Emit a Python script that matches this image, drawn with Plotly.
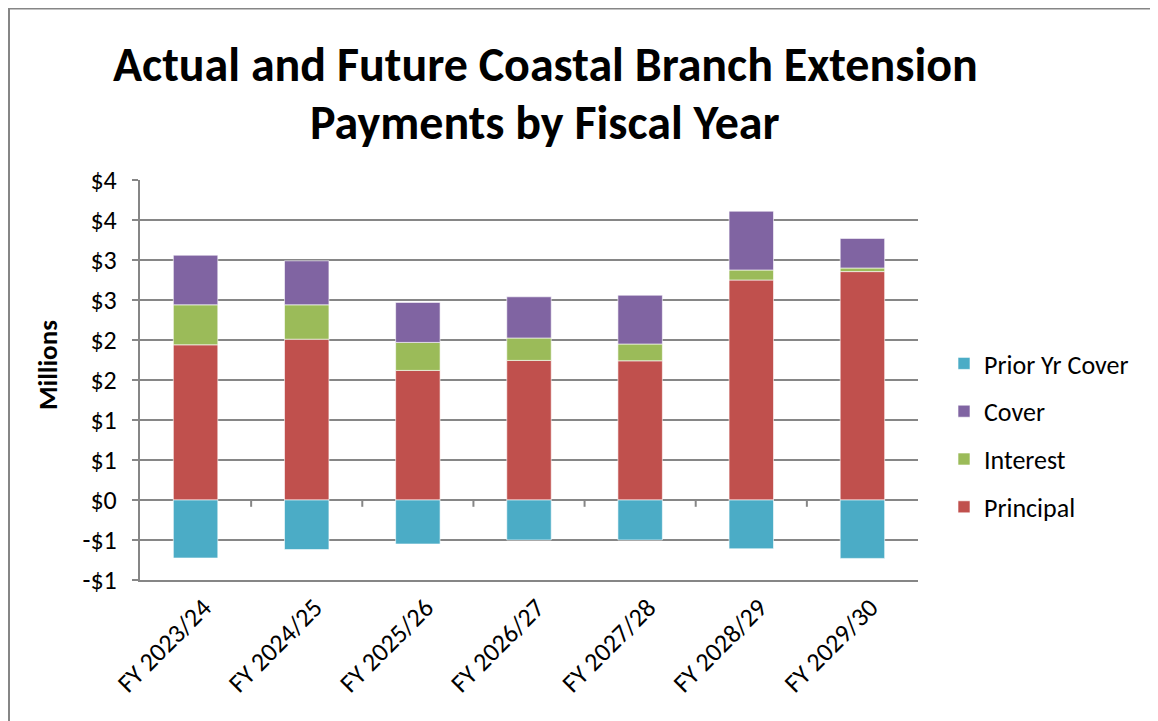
import plotly.graph_objects as go

categories = ["FY 2023/24", "FY 2024/25", "FY 2025/26", "FY 2026/27",
              "FY 2027/28", "FY 2028/29", "FY 2029/30"]
principal = [1.94, 2.01, 1.62, 1.745, 1.74, 2.75, 2.855]
interest = [0.50, 0.43, 0.35, 0.28, 0.21, 0.125, 0.045]
cover = [0.62, 0.55, 0.50, 0.515, 0.61, 0.735, 0.37]
prior_yr_cover = [-0.725, -0.62, -0.55, -0.50, -0.50, -0.61, -0.73]

tick_vals = [-1.0, -0.5, 0.0, 0.5, 1.0, 1.5, 2.0, 2.5, 3.0, 3.5, 4.0]
tick_text = ["-$1", "-$1", "$0", "$1", "$1", "$2", "$2", "$3", "$3", "$4", "$4"]

title_lines = ["Actual and Future Coastal Branch Extension", "Payments by Fiscal Year"]

FONT = "Carlito, Calibri, Lato, sans-serif"
GRID = "#868686"

# plot area in figure pixels
L, T, W, H = 132, 172, 778, 400
FW, FH = 1158, 721


def px(x):
    return (x - L) / W


def py(y):
    return (T + H - y) / H


series = [
    ("Principal", principal, "#C0504D", 4),
    ("Interest", interest, "#9BBB59", 3),
    ("Cover", cover, "#8064A2", 2),
    ("Prior Yr Cover", prior_yr_cover, "#4BACC6", 1),
]

fig = go.Figure()
for name, vals, col, rank in series:
    fig.add_trace(go.Bar(
        x=categories, y=vals, name=name, legendgroup=name, legendrank=rank,
        marker=dict(color=col, line=dict(color="rgba(255,255,255,0.6)", width=1)),
        width=0.4,
    ))

# category separator ticks on the zero line
for i in range(len(categories) - 1):
    fig.add_shape(type="line", xref="x", yref="y",
                  x0=i + 0.5, x1=i + 0.5, y0=0, y1=-0.085,
                  line=dict(color=GRID, width=2))

# chart outer border
fig.add_shape(type="rect", xref="paper", yref="paper",
              x0=px(1), x1=px(FW + 50), y0=py(FH + 50), y1=py(0.5),
              line=dict(color=GRID, width=2), fillcolor="rgba(0,0,0,0)", layer="above")

annotations = [
    dict(text="<b>Millions</b>", textangle=-90, xref="paper", yref="paper",
         x=px(39), y=py(357), xanchor="center", yanchor="middle",
         showarrow=False, font=dict(family=FONT, size=27, color="black")),
]
for line, yc in zip(title_lines, [57, 114]):
    annotations.append(dict(
        text="<b>" + line + "</b>", xref="paper", yref="paper",
        x=px(537), y=py(yc), xanchor="center", yanchor="middle",
        showarrow=False, font=dict(family=FONT, size=48, color="black")))

fig.update_layout(
    width=FW, height=FH,
    margin=dict(l=L, r=FW - L - W, t=T, b=FH - T - H),
    paper_bgcolor="white", plot_bgcolor="white",
    barmode="relative",
    font=dict(family=FONT, size=26, color="black"),
    xaxis=dict(
        showgrid=False, showline=True, linecolor=GRID, linewidth=2,
        ticks="", tickangle=-45, tickfont=dict(size=26),
        ticklabelshift=8,
        range=[-0.5, 6.5],
    ),
    yaxis=dict(
        range=[-1, 4], tickvals=tick_vals, ticktext=tick_text,
        showgrid=True, gridcolor=GRID, gridwidth=2,
        zeroline=True, zerolinecolor=GRID, zerolinewidth=2,
        showline=True, linecolor=GRID, linewidth=2,
        ticks="outside", ticklen=6, tickcolor=GRID, tickwidth=2,
        tickfont=dict(size=26), ticklabelstandoff=10,
    ),
    legend=dict(
        x=px(936), xanchor="left", y=py(427.5), yanchor="middle",
        traceorder="grouped", tracegroupgap=11,
        font=dict(size=26),
    ),
    annotations=annotations,
)

fig.write_html("out.html")
